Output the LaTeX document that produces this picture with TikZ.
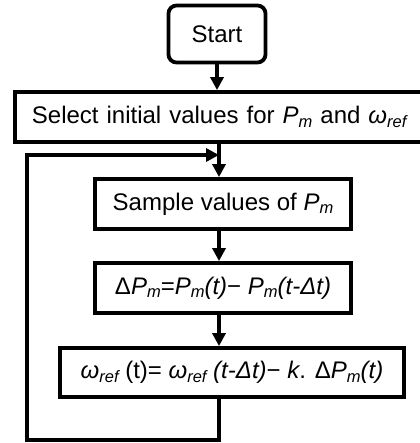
\documentclass[tikz,border=0pt]{standalone}
\usepackage{fontspec}
\setmainfont{Liberation Sans}
\usetikzlibrary{arrows.meta,calc}
\newcommand{\sbs}[1]{\raisebox{-3.6pt}{\fontsize{16.5}{16.5}\selectfont\itshape #1}}
\begin{document}
\begin{tikzpicture}[x=1pt,y=-1pt,
  box/.style={draw,line width=3.8pt,inner sep=0pt,minimum height=50pt,font=\fontsize{24}{28}\selectfont},
  conn/.style={line width=3.8pt},
  arr/.style={conn,-{Triangle[length=13pt,width=13pt]}}]
\useasboundingbox (0,0) rectangle (419,443);
\node[box,rounded corners=8pt,minimum width=97pt,minimum height=57pt] (start) at (217,34) {Start};
\node[box,anchor=west,text width=410pt,inner xsep=17pt,align=left] (init) at (13,117)
  {Select initial values for \textit{P}\sbs{m} and \textit{ω}\sbs{ref}};
\node[box,minimum width=256pt] (sample) at (223,204) {Sample values of \textit{P}\sbs{m}};
\node[box,minimum width=256pt] (delta) at (223,288)
  {Δ\textit{P}\sbs{m}=\textit{P}\sbs{m}\textit{(t)}− \textit{P}\sbs{m}\textit{(t-Δt)}};
\node[box,minimum width=344pt,minimum height=49pt] (omega) at (232,372.5)
  {\textit{ω}\sbs{ref} (t)= \textit{ω}\sbs{ref} \textit{(t-Δt)}− \textit{k}. Δ\textit{P}\sbs{m}\textit{(t)}};
\coordinate (j) at (219,155);
\coordinate (bl) at (27,440);
\draw[arr] (start.south) -- (start.south |- init.north);
\draw[arr] (init.south -| j) -- (j |- sample.north);
\draw[arr] (sample.south -| j) -- (j |- delta.north);
\draw[arr] (delta.south -| j) -- (j |- omega.north);
\draw[arr,line join=miter] (omega.south -| j) -- (j |- bl) -- (bl) -- (bl |- j) -- (j);
\end{tikzpicture}
\end{document}
